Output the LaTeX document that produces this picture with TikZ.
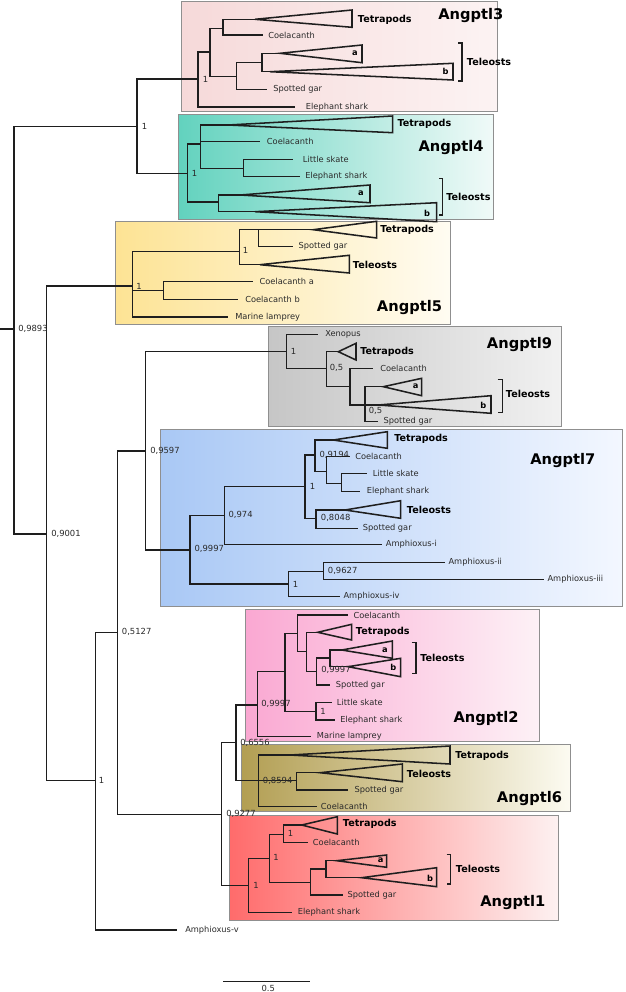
\documentclass[tikz,border=0pt]{standalone}
\usepackage{fontspec}
\setmainfont{DejaVu Sans}
\definecolor{ln}{HTML}{1E1E1E}
\definecolor{tx}{HTML}{2A2A2A}
\definecolor{bx}{HTML}{8F8F8F}
\definecolor{athreel}{HTML}{F6D9D9}\definecolor{athreer}{HTML}{FCF3F3}
\definecolor{afourl}{HTML}{62D2BE}\definecolor{afourr}{HTML}{F0FAF8}
\definecolor{afivel}{HTML}{FDE394}\definecolor{afiver}{HTML}{FFFCF2}
\definecolor{aninel}{HTML}{C6C6C6}\definecolor{aniner}{HTML}{F1F1F1}
\definecolor{asevenl}{HTML}{A9C8F5}\definecolor{asevenr}{HTML}{F3F7FF}
\definecolor{atwol}{HTML}{FAA8D2}\definecolor{atwor}{HTML}{FDF1F6}
\definecolor{asixl}{HTML}{B29E52}\definecolor{asixr}{HTML}{FCFBF1}
\definecolor{aonel}{HTML}{FF6B6B}\definecolor{aoner}{HTML}{FDF1F1}
\tikzset{
  br/.style={draw=ln, line width=1.15pt},
  clade/.style={draw=ln, line width=1.15pt, line join=miter},
  tip/.style={anchor=west, inner sep=0pt, text=tx, font=\fontsize{6.2}{7}\selectfont},
  sup/.style={anchor=west, inner sep=0pt, text=tx, font=\fontsize{6.3}{7}\selectfont},
  grp/.style={anchor=west, inner sep=0pt, text=black, font=\bfseries\fontsize{7.2}{8}\selectfont},
  ab/.style={inner sep=0pt, text=black, font=\bfseries\fontsize{6.2}{7}\selectfont},
  fam/.style={anchor=west, inner sep=0pt, text=black, font=\bfseries\fontsize{11}{12}\selectfont},
  famBox/.style={draw=bx, line width=0.7pt},
}
\newcommand\myin[3]{\coordinate (#1) at (#2,#3);}
\newcommand\mytip[5]{\coordinate (#1) at (#2,#3); \node[tip] (#1-l) at (#4,#3) {#5};}
\newcommand\mytri[6]{\coordinate (#1) at (#2,#3); \draw[clade] (#1) -- (#4,#5) -- (#4,#6) -- cycle;}
\newcommand\mysup[4]{\node[sup] (#1) at (#2,#3) {#4};}
\newcommand\mybr[2]{\draw[br] (#1) |- (#2);}
\newcommand\mybrk[5]{\draw[br] (#2,#4) -- (#3,#4) -- (#3,#5) -- (#2,#5); \coordinate (#1) at (#3,#4);}
\begin{document}
\begin{tikzpicture}[x=0.75pt,y=-0.75pt]
\useasboundingbox (0,0) rectangle (625,992);
\fill[white] (0,0) rectangle (625,992);
% ---------- family boxes ----------
\draw[famBox, left color=athreel, right color=athreer] (181,1) rectangle (497,111);
\draw[famBox, left color=afourl, right color=afourr] (178.3,114) rectangle (493,219.5);
\draw[famBox, left color=afivel, right color=afiver] (115,221.3) rectangle (450.7,324);
\draw[famBox, left color=aninel, right color=aniner] (268.3,326.7) rectangle (561.7,426.7);
\draw[famBox, left color=asevenl, right color=asevenr] (160,429.7) rectangle (622.3,606.3);
\draw[famBox, left color=atwol, right color=atwor] (245,609) rectangle (539,741);
\draw[famBox, left color=asixl, right color=asixr] (241,744.3) rectangle (570,811.7);
\draw[famBox, left color=aonel, right color=aoner] (229.3,815) rectangle (558.3,920.7);

% ---------- backbone ----------
\myin{stub}{0}{329}
\myin{R0}{14}{329}
\myin{N1}{137}{126.7}
\myin{N9001}{46.7}{534}
\myin{N1b}{95.3}{780.7}
\myin{N5127}{117.3}{632.3}
\myin{N9597}{145.7}{451}
\myin{N9277}{221.7}{814.3}
\myin{N6556}{236}{742.7}
\myin{A3root}{198}{79}
\myin{A4root}{187.5}{173.3}
\myin{A5root}{132.5}{286}
\myin{A9root}{286.7}{351.7}
\myin{A7root}{190}{550}
\myin{A2root}{257.5}{705}
\myin{A6root}{258.3}{780.7}
\myin{A1root}{248.5}{885.7}
\mytip{Amphv}{176.7}{930}{185}{Amphioxus-v}
\draw[br] (stub) -- (R0);
\mybr{R0}{N1}\mybr{R0}{N9001}
\mybr{N1}{A3root}\mybr{N1}{A4root}
\mybr{N9001}{A5root}\mybr{N9001}{N1b}
\mybr{N1b}{N5127}\mybr{N1b}{Amphv}
\mybr{N5127}{N9597}\mybr{N5127}{N9277}
\mybr{N9597}{A9root}\mybr{N9597}{A7root}
\mybr{N9277}{N6556}\mybr{N9277}{A1root}
\mybr{N6556}{A2root}\mybr{N6556}{A6root}
\mysup{s-R0}{18}{329}{0,9893}
\mysup{s-N1}{141.5}{126.7}{1}
\mysup{s-N9001}{51}{534}{0,9001}
\mysup{s-N1b}{98.5}{780.7}{1}
\mysup{s-N5127}{121.7}{632.3}{0,5127}
\mysup{s-N9597}{150}{451}{0,9597}
\mysup{s-N9277}{226}{814}{0,9277}
\mysup{s-N6556}{240}{742.7}{0,6556}

% ---------- Angptl3 ----------
\myin{A3a}{210}{52}
\myin{A3b}{223}{28.3}
\myin{A3c}{236.7}{76.7}
\myin{A3t}{262}{62.5}
\mytri{A3tet}{255}{19.3}{352}{10}{27.3}
\mytip{A3coe}{263}{35}{268}{Coelacanth}
\mytri{A3ta}{280}{53.3}{362}{45}{62.7}
\mytri{A3tb}{270}{71.7}{453}{63.3}{80}
\mytip{A3gar}{266.7}{89.3}{273}{Spotted gar}
\mytip{A3sh}{295}{107}{305.7}{Elephant shark}
\mybr{A3root}{A3a}\mybr{A3root}{A3sh}
\mybr{A3a}{A3b}\mybr{A3a}{A3c}
\mybr{A3b}{A3tet}\mybr{A3b}{A3coe}
\mybr{A3c}{A3t}\mybr{A3c}{A3gar}
\mybr{A3t}{A3ta}\mybr{A3t}{A3tb}
\mysup{s-A3}{202.5}{79}{1}
\node[grp] (A3tet-l) at (357.7,20) {Tetrapods};
\node[ab] (A3ta-l) at (355,53.3) {a};
\node[ab] (A3tb-l) at (445.7,71) {b};
\mybrk{A3brk}{458}{462}{43}{81}
\node[grp] (A3tel-l) at (466.7,62) {Teleosts};
\node[fam] (A3name) at (438,16) {Angptl3};

% ---------- Angptl4 ----------
\myin{A4a}{200.7}{144}
\myin{A4sk}{243.3}{168.3}
\myin{A4t}{218.3}{202}
\mytri{A4tet}{228}{125}{392.7}{116}{132.7}
\mytip{A4coe}{260}{141.7}{266.7}{Coelacanth}
\mytip{A4ls}{293.3}{159.3}{302.7}{Little skate}
\mytip{A4es}{300}{176.7}{305}{Elephant shark}
\mytri{A4ta}{240}{195}{370}{185}{202.7}
\mytri{A4tb}{255}{211.7}{436.7}{202.7}{221.7}
\mybr{A4root}{A4a}\mybr{A4root}{A4t}
\mybr{A4a}{A4tet}\mybr{A4a}{A4coe}\mybr{A4a}{A4sk}
\mybr{A4sk}{A4ls}\mybr{A4sk}{A4es}
\mybr{A4t}{A4ta}\mybr{A4t}{A4tb}
\mysup{s-A4}{191.5}{173.3}{1}
\node[grp] (A4tet-l) at (397.3,124) {Tetrapods};
\node[ab] (A4ta-l) at (361,193.3) {a};
\node[ab] (A4tb-l) at (427,213.3) {b};
\mybrk{A4brk}{439.3}{442.7}{178.3}{215}
\node[grp] (A4tel-l) at (446,197.3) {Teleosts};
\node[fam] (A4name) at (418.3,147.3) {Angptl4};

% ---------- Angptl5 ----------
\myin{A5a}{239.3}{251.3}
\myin{A5b}{258.3}{229.7}
\myin{A5c}{163.3}{290.5}
\mytri{A5tet}{313.3}{229.7}{376.7}{221.3}{238}
\mytip{A5gar}{293.3}{246.3}{298.3}{Spotted gar}
\mytri{A5tel}{260}{264.7}{349.3}{255.3}{273}
\mytip{A5ca}{253.3}{281.7}{259.3}{Coelacanth a}
\mytip{A5cb}{238.3}{299.3}{245}{Coelacanth b}
\mytip{A5ml}{228.3}{317}{235}{Marine lamprey}
\mybr{A5root}{A5a}\mybr{A5root}{A5c}\mybr{A5root}{A5ml}
\mybr{A5a}{A5b}\mybr{A5a}{A5tel}
\mybr{A5b}{A5tet}\mybr{A5b}{A5gar}
\mybr{A5c}{A5ca}\mybr{A5c}{A5cb}
\mysup{s-A5}{136}{286.3}{1}
\mysup{s-A5a}{242.5}{250.7}{1}
\node[grp] (A5tet-l) at (380,229.7) {Tetrapods};
\node[grp] (A5tel-l) at (352.7,264.7) {Teleosts};
\node[fam] (A5name) at (376.7,307.3) {Angptl5};

% ---------- Angptl9 ----------
\myin{A9a}{326.7}{368.3}
\myin{A9b}{350}{386.7}
\myin{A9c}{365}{405}
\mytip{A9xen}{318.3}{334.3}{325}{Xenopus}
\mytri{A9tet}{338.3}{351.7}{356}{343.3}{360}
\mytip{A9coe}{373.3}{368.3}{380}{Coelacanth}
\mytri{A9ta}{383.3}{386.7}{421.7}{378.3}{395.7}
\mytri{A9tb}{378.3}{405}{491}{395.7}{413.3}
\mytip{A9gar}{378}{421.7}{383.3}{Spotted gar}
\mybr{A9root}{A9xen}\mybr{A9root}{A9a}
\mybr{A9a}{A9tet}\mybr{A9a}{A9b}
\mybr{A9b}{A9coe}\mybr{A9b}{A9c}
\mybr{A9c}{A9ta}\mybr{A9c}{A9tb}\mybr{A9c}{A9gar}
\mysup{s-A9}{290.5}{351.7}{1}
\mysup{s-A9a}{329.5}{368.3}{0,5}
\mysup{s-A9c}{368.5}{411}{0,5}
\node[grp] (A9tet-l) at (360,351.7) {Tetrapods};
\node[ab] (A9ta-l) at (415.7,386.7) {a};
\node[ab] (A9tb-l) at (483.3,405) {b};
\mybrk{A9brk}{497.7}{502.3}{379.3}{412.7}
\node[grp] (A9tel-l) at (505.7,394.3) {Teleosts};
\node[fam] (A9name) at (486.7,345) {Angptl9};

% ---------- Angptl7 ----------
\myin{A7u}{224.3}{515.7}
\myin{A7n1}{305}{486.5}
\myin{A7t}{315}{455}
\myin{A7c}{326.7}{471.7}
\myin{A7sk}{341.7}{483.3}
\myin{A7s}{316}{518.3}
\myin{A7l}{288.3}{584}
\myin{A7am}{323.3}{571.3}
\mytri{A7tet}{333.3}{440}{387.3}{431.7}{448.3}
\mytip{A7coe}{350}{456.7}{355}{Coelacanth}
\mytip{A7ls}{366.7}{473.3}{372.7}{Little skate}
\mytip{A7es}{360}{491.7}{366.7}{Elephant shark}
\mytri{A7tel}{345}{510}{400.7}{500.7}{518.3}
\mytip{A7gar}{358.3}{528.3}{362.7}{Spotted gar}
\mytip{A7ai}{381.7}{544.7}{385.7}{Amphioxus-i}
\mytip{A7aii}{445}{562.3}{448.3}{Amphioxus-ii}
\mytip{A7aiii}{544.3}{579.7}{547.3}{Amphioxus-iii}
\mytip{A7aiv}{340}{596.3}{343.3}{Amphioxus-iv}
\mybr{A7root}{A7u}\mybr{A7root}{A7l}
\mybr{A7u}{A7n1}\mybr{A7u}{A7ai}
\mybr{A7n1}{A7t}\mybr{A7n1}{A7s}
\mybr{A7t}{A7tet}\mybr{A7t}{A7c}
\mybr{A7c}{A7coe}\mybr{A7c}{A7sk}
\mybr{A7sk}{A7ls}\mybr{A7sk}{A7es}
\mybr{A7s}{A7tel}\mybr{A7s}{A7gar}
\mybr{A7l}{A7am}\mybr{A7l}{A7aiv}
\mybr{A7am}{A7aii}\mybr{A7am}{A7aiii}
\mysup{s-A7}{194.3}{549}{0,9997}
\mysup{s-A7u}{228.3}{515.3}{0,974}
\mysup{s-A7n1}{309.5}{486.7}{1}
\mysup{s-A7t}{319.3}{455}{0,9194}
\mysup{s-A7s}{320.7}{518.3}{0,8048}
\mysup{s-A7l}{292.5}{584}{1}
\mysup{s-A7am}{327.7}{570.7}{0,9627}
\node[grp] (A7tet-l) at (394,439) {Tetrapods};
\node[grp] (A7tel-l) at (406.7,510) {Teleosts};
\node[fam] (A7name) at (530,461) {Angptl7};

% ---------- Angptl2 ----------
\myin{A2a}{285}{671.7}
\myin{A2sk}{316}{711.7}
\myin{A2b}{297.7}{633.3}
\myin{A2c}{306.7}{651.7}
\myin{A2d}{316.7}{671.7}
\myin{A2t}{330}{658}
\mytip{A2coe}{348.3}{615}{353.3}{Coelacanth}
\mytri{A2tet}{317.7}{632.3}{351.7}{624.3}{640}
\mytri{A2ta}{341.7}{650}{392.3}{641}{658.3}
\mytri{A2tb}{348}{666.7}{400.7}{658.3}{676.7}
\mytip{A2gar}{330}{685}{335.7}{Spotted gar}
\mytip{A2ls}{331.7}{702.7}{336.7}{Little skate}
\mytip{A2es}{335}{720}{340}{Elephant shark}
\mytip{A2ml}{311}{736.7}{316.7}{Marine lamprey}
\mybr{A2root}{A2a}\mybr{A2root}{A2ml}
\mybr{A2a}{A2b}\mybr{A2a}{A2sk}
\mybr{A2sk}{A2ls}\mybr{A2sk}{A2es}
\mybr{A2b}{A2coe}\mybr{A2b}{A2c}
\mybr{A2c}{A2tet}\mybr{A2c}{A2d}
\mybr{A2d}{A2t}\mybr{A2d}{A2gar}
\mybr{A2t}{A2ta}\mybr{A2t}{A2tb}
\mysup{s-A2}{261}{704}{0,9997}
\mysup{s-A2d}{321}{670}{0,9997}
\mysup{s-A2sk}{320}{711}{1}
\node[grp] (A2tet-l) at (355.7,631.7) {Tetrapods};
\node[ab] (A2ta-l) at (385,650) {a};
\node[ab] (A2tb-l) at (393.3,667.7) {b};
\mybrk{A2brk}{411.7}{416}{642.7}{673.3}
\node[grp] (A2tel-l) at (420,658.3) {Teleosts};
\node[fam] (A2name) at (453.3,719) {Angptl2};

% ---------- Angptl6 ----------
\myin{A6a}{296.7}{780.7}
\mytri{A6tet}{290}{755}{450}{746}{764}
\mytri{A6tel}{320}{772.7}{402.3}{764}{781.7}
\mytip{A6gar}{348.3}{790}{354.3}{Spotted gar}
\mytip{A6coe}{316.7}{806.7}{320.7}{Coelacanth}
\mybr{A6root}{A6tet}\mybr{A6root}{A6a}\mybr{A6root}{A6coe}
\mybr{A6a}{A6tel}\mybr{A6a}{A6gar}
\mysup{s-A6}{262.7}{780.7}{0,8594}
\node[grp] (A6tet-l) at (455,755.7) {Tetrapods};
\node[grp] (A6tel-l) at (406.7,774.3) {Teleosts};
\node[fam] (A6name) at (496.7,799) {Angptl6};

% ---------- Angptl1 ----------
\myin{A1a}{269.3}{858.3}
\myin{A1b}{283.3}{834.3}
\myin{A1c}{310.7}{882.3}
\myin{A1t}{326}{869}
\mytri{A1tet}{301.7}{825}{337.3}{816.7}{834}
\mytip{A1coe}{308.3}{842.7}{312.7}{Coelacanth}
\mytri{A1ta}{336.7}{860.7}{386.7}{855}{867.3}
\mytri{A1tb}{361.7}{877.7}{436.7}{867.7}{886.7}
\mytip{A1gar}{343.3}{895}{347.3}{Spotted gar}
\mytip{A1es}{291.7}{912.7}{297.7}{Elephant shark}
\mybr{A1root}{A1a}\mybr{A1root}{A1es}
\mybr{A1a}{A1b}\mybr{A1a}{A1c}
\mybr{A1b}{A1tet}\mybr{A1b}{A1coe}
\mybr{A1c}{A1t}\mybr{A1c}{A1gar}
\mybr{A1t}{A1ta}\mybr{A1t}{A1tb}
\mysup{s-A1}{253}{885.7}{1}
\mysup{s-A1a}{273}{857.3}{1}
\mysup{s-A1b}{287.5}{833.3}{1}
\node[grp] (A1tet-l) at (342.7,824) {Tetrapods};
\node[ab] (A1ta-l) at (380.7,860.7) {a};
\node[ab] (A1tb-l) at (430,878) {b};
\mybrk{A1brk}{446.7}{450.7}{854.3}{884}
\node[grp] (A1tel-l) at (455.7,869.3) {Teleosts};
\node[fam] (A1name) at (480,902.7) {Angptl1};

% ---------- scale bar ----------
\coordinate (sbL) at (223.3,981.7);
\coordinate (sbR) at (310,981.7);
\draw[br] (sbL) -- (sbR);
\node[inner sep=0pt, text=tx, font=\fontsize{6.3}{7}\selectfont] (sbT) at (268.3,988.5) {0.5};
\end{tikzpicture}
\end{document}
